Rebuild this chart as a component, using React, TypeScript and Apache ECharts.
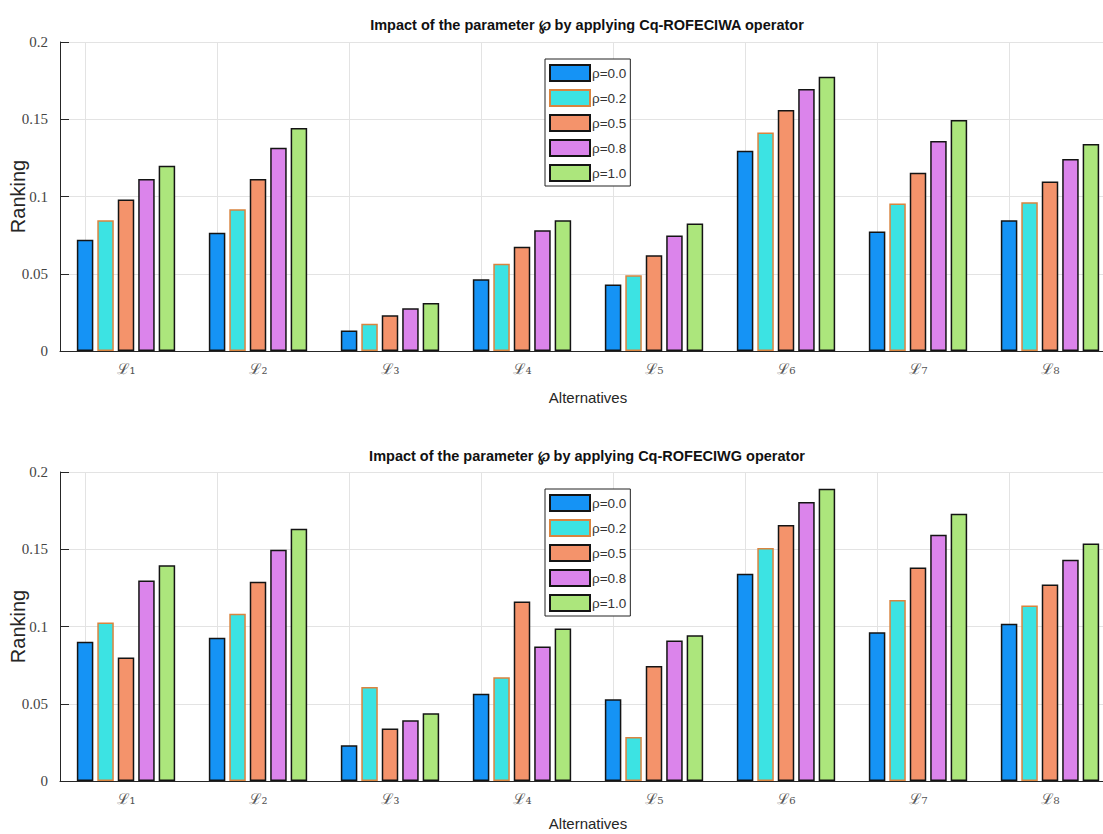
import React, { useEffect, useRef } from "react";
import * as echarts from "echarts";

const categories = ["ℒ₁", "ℒ₂", "ℒ₃", "ℒ₄", "ℒ₅", "ℒ₆", "ℒ₇", "ℒ₈"];
const rhoLabels = ["ρ=0.0", "ρ=0.2", "ρ=0.5", "ρ=0.8", "ρ=1.0"];
const titleTop = "Impact of the parameter ℘ by applying Cq-ROFECIWA operator";
const titleBottom = "Impact of the parameter ℘ by applying Cq-ROFECIWG operator";
const yAxisName = "Ranking";
const xAxisName = "Alternatives";

// Cq-ROFECIWA operator (top panel)
const waRho00 = [0.072, 0.0765, 0.0132, 0.0464, 0.043, 0.1296, 0.0774, 0.0847];
const waRho02 = [0.0847, 0.0918, 0.0177, 0.0564, 0.049, 0.1415, 0.0955, 0.0963];
const waRho05 = [0.0981, 0.1114, 0.0231, 0.0674, 0.062, 0.156, 0.1153, 0.1097];
const waRho08 = [0.1114, 0.1315, 0.0277, 0.0782, 0.0748, 0.1696, 0.1359, 0.1242];
const waRho10 = [0.1199, 0.1443, 0.0311, 0.0847, 0.0825, 0.1775, 0.1495, 0.1339];

// Cq-ROFECIWG operator (bottom panel)
const wgRho00 = [0.0901, 0.0927, 0.0231, 0.0564, 0.0529, 0.1341, 0.0963, 0.1017];
const wgRho02 = [0.1026, 0.1082, 0.0609, 0.0672, 0.0285, 0.1508, 0.1171, 0.1136];
const wgRho05 = [0.0799, 0.1289, 0.0339, 0.1162, 0.0745, 0.1657, 0.1382, 0.1272];
const wgRho08 = [0.1298, 0.1497, 0.0393, 0.087, 0.0909, 0.1806, 0.1594, 0.1432];
const wgRho10 = [0.1397, 0.1633, 0.0438, 0.0987, 0.0944, 0.1892, 0.173, 0.1538];

const yMin = 0;
const yMax = 0.2;
const yStep = 0.05;

const waSeries = [waRho00, waRho02, waRho05, waRho08, waRho10];
const wgSeries = [wgRho00, wgRho02, wgRho05, wgRho08, wgRho10];

const barColors = ["#1593f5", "#3ce3e3", "#f4936b", "#db84eb", "#ace67c"];
const barBorders = ["#141414", "#d9843f", "#141414", "#141414", "#141414"];

const sans = "'Liberation Sans', Arial, sans-serif";
const serif = "'Liberation Serif', 'DejaVu Serif', serif";

export default function App() {
  const ref = useRef<HTMLDivElement>(null);

  useEffect(() => {
    if (!ref.current) return;
    const chart = echarts.init(ref.current, undefined, { renderer: "svg" });

    const gridTops = [42, 472];
    const xNameGaps = [39, 35];
    const grids = gridTops.map((t) => ({
      left: 60,
      top: t,
      width: 1056,
      height: 309,
      containLabel: false,
      outerBoundsMode: "none",
    }));

    const xAxes = gridTops.map((_, i) => ({
      type: "category",
      gridIndex: i,
      data: categories,
      name: xAxisName,
      nameLocation: "middle",
      nameGap: xNameGaps[i],
      nameMoveOverlap: false,
      nameTextStyle: { fontFamily: sans, fontSize: 15, color: "#262626" },
      axisLine: { show: true, lineStyle: { color: "#262626", width: 1 } },
      axisTick: { show: false },
      axisLabel: { fontFamily: "'DejaVu Serif', serif", fontSize: 15, color: "#555", margin: 10, interval: 0 },
      splitLine: { show: false },
    }));

    const yAxes = gridTops.map((_, i) => ({
      type: "value",
      gridIndex: i,
      min: yMin,
      max: yMax,
      interval: yStep,
      name: yAxisName,
      nameLocation: "middle",
      nameGap: 32,
      nameRotate: 90,
      nameMoveOverlap: false,
      nameTextStyle: { fontFamily: sans, fontSize: 20, color: "#262626" },
      axisLine: { show: true, lineStyle: { color: "#262626", width: 1 } },
      axisTick: { show: true, inside: true, length: 9, lineStyle: { color: "#262626" } },
      axisLabel: { fontFamily: serif, fontSize: 15, color: "#444", margin: 12 },
      splitLine: { show: true, lineStyle: { color: "#e3e3e3", width: 1 } },
    }));

    const series: any[] = [];
    [waSeries, wgSeries].forEach((group, gi) => {
      group.forEach((vals, si) => {
        const s: any = {
          type: "bar",
          name: rhoLabels[si],
          xAxisIndex: gi,
          yAxisIndex: gi,
          data: vals,
          barWidth: 16.5,
          barGap: "24%",
          z: 2,
          itemStyle: { color: barColors[si], borderColor: barBorders[si], borderWidth: 1.5 },
        };
        if (si === 0) {
          s.markLine = {
            silent: true,
            symbol: "none",
            z: 1,
            label: { show: false },
            lineStyle: { color: "#e3e3e3", width: 1, type: "solid" },
            data: categories.map((c) => ({ xAxis: c })),
          };
        }
        series.push(s);
      });
    });

    const legends = [59, 489].map((t) => ({
      data: rhoLabels,
      orient: "vertical",
      left: 545,
      top: t,
      itemWidth: 40,
      itemHeight: 16,
      itemGap: 7,
      padding: [5, 4, 4, 4],
      icon: "rect",
      selectedMode: false,
      backgroundColor: "#fff",
      borderColor: "#222",
      borderWidth: 1,
      borderRadius: 0,
      textStyle: { fontFamily: sans, fontSize: 13.5, color: "#333", padding: [0, 0, 0, -3] },
    }));

    const titles = [
      { text: titleTop, top: 17 },
      { text: titleBottom, top: 448 },
    ].map((t) => ({
      text: t.text,
      left: 587,
      top: t.top,
      textAlign: "center",
      padding: 0,
      textStyle: { fontFamily: sans, fontSize: 14.5, fontWeight: "bold", color: "#111" },
    }));

    chart.setOption({
      animation: false,
      backgroundColor: "#fff",
      title: titles,
      legend: legends,
      grid: grids,
      xAxis: xAxes,
      yAxis: yAxes,
      series,
    });

    return () => chart.dispose();
  }, []);

  return (
    <div style={{ position: "absolute", left: 0, top: 0, width: 1103, height: 834, overflow: "hidden", background: "#fff" }}>
      <div ref={ref} style={{ width: 1130, height: 834 }} />
    </div>
  );
}
